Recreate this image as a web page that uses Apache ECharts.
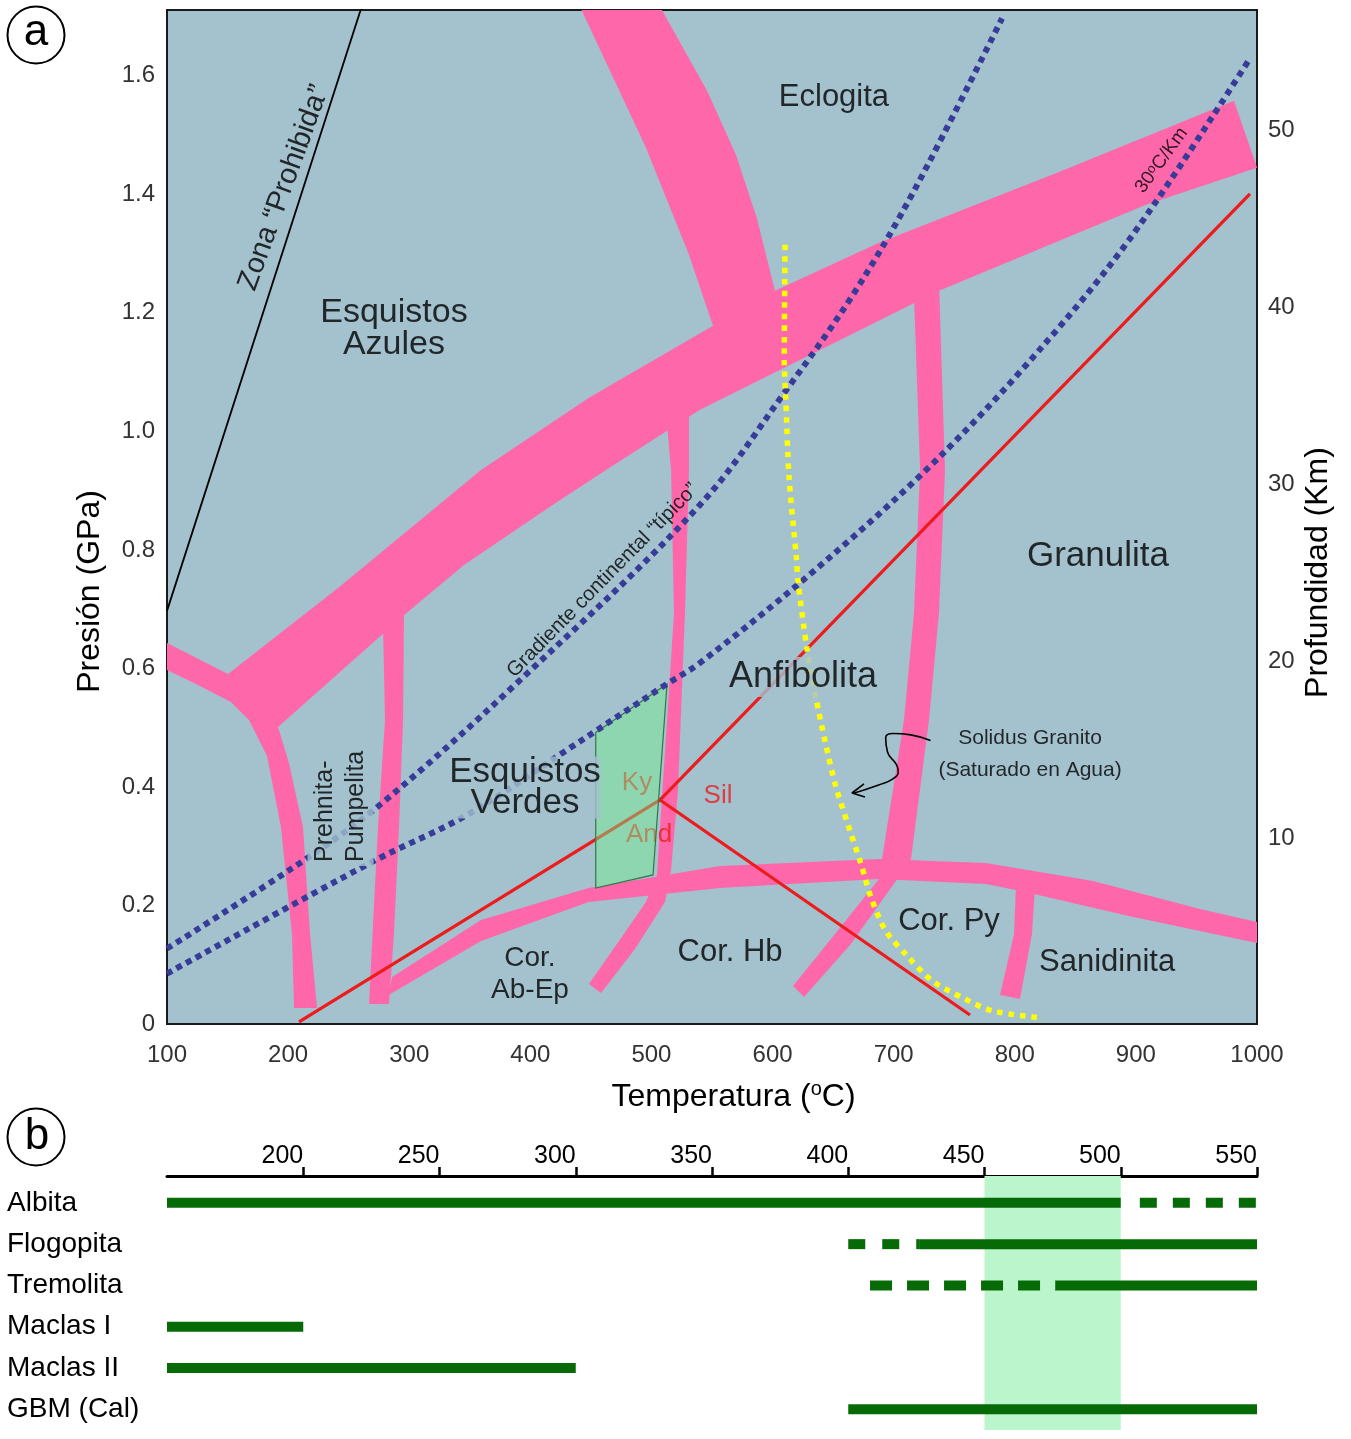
<!DOCTYPE html>
<html>
<head>
<meta charset="utf-8">
<title>Facies metamórficas</title>
<script src="https://cdn.jsdelivr.net/npm/echarts@6.0.0/dist/echarts.min.js"></script>
<style>
  html, body { margin: 0; padding: 0; background: #fff; }
  #chart { width: 1351px; height: 1439px; }
</style>
</head>
<body>
<div id="chart"></div>
<script>
// ---------- panel a: diagrama P-T (T en ºC, P en GPa) ----------
const tempTicks = [100, 200, 300, 400, 500, 600, 700, 800, 900, 1000];
const depthTicks = [10, 20, 30, 40, 50];

// limites de facies (bandas rosas), contorno en [T, P]
const zeoliteBand = [[100, 0.6431], [150.4, 0.5907], [175, 0.575], [191.7, 0.5013], [200.7, 0.4405], [212.3, 0.3325],
  [218.1, 0.1519], [223.9, 0.027], [204.9, 0.027], [203.2, 0.1519], [194.1, 0.3325], [182.6, 0.4523],
  [167.7, 0.5131], [152.8, 0.5435], [123.9, 0.5739], [100, 0.5975]];
const blueschistBand = [[150.4, 0.5907], [241.2, 0.7359], [359.3, 0.935], [448.4, 1.0566], [550.8, 1.1781],
  [602.0, 1.2372], [687.9, 1.3182], [834.9, 1.4363], [981.0, 1.5578], [1000, 1.4448], [908.4, 1.3823],
  [737.4, 1.2372], [540.1, 1.0363], [462.5, 0.935], [418.7, 0.876], [345.2, 0.7747], [294.9, 0.6886], [191.7, 0.5013]];
const eclogiteBand = [[440.2, 1.72], [506.2, 1.72], [545.9, 1.5747], [569.8, 1.4667], [587.2, 1.3587], [602.0, 1.2372],
  [577.3, 1.146], [550.8, 1.1781], [531.0, 1.2979], [495.5, 1.4785]];
const prehniteBand = [[278.4, 0.67], [280.0, 0.5131], [274.2, 0.3325], [269.7, 0.1519], [266.8, 0.0338],
  [283.3, 0.0338], [287.4, 0.1519], [291.6, 0.3325], [294.9, 0.5131], [295.7, 0.70]];
const amphiboliteBand = [[512.9, 1.01], [516.2, 0.935], [518.6, 0.6937], [512.9, 0.5131], [507.1, 0.3325],
  [504.6, 0.2515], [495.5, 0.2059], [474.9, 0.1452], [448.4, 0.0675], [458.4, 0.0523], [486.4, 0.1266],
  [511.2, 0.2059], [516.2, 0.2599], [521.9, 0.3933], [527.7, 0.6937], [531.0, 0.935], [531.0, 1.035]];
const granuliteBand = [[716.8, 1.23], [721.8, 0.935], [716.8, 0.6937], [708.5, 0.5131], [690.4, 0.2785],
  [687.9, 0.2447], [658.2, 0.1688], [616.9, 0.0641], [626.0, 0.0456], [664.0, 0.1333], [701.9, 0.2414],
  [714.3, 0.2785], [729.2, 0.5131], [737.4, 0.6937], [742.4, 0.935], [737.4, 1.255]];
const hornfelsBand = [[285.8, 0.0793], [359.3, 0.1755], [448.1, 0.2295], [556.6, 0.2667], [687.6, 0.2785],
  [776.2, 0.2717], [864.6, 0.2414], [953.0, 0.1941], [1000, 0.1722], [1000, 0.1367], [894.0, 0.1823],
  [805.1, 0.2245], [776.2, 0.2363], [687.6, 0.2447], [556.6, 0.2295], [448.1, 0.2059], [359.3, 0.1401], [283.0, 0.0489]];
const sanidiniteBand = [[801.0, 0.2346], [799.4, 0.1519], [787.8, 0.0489], [804.3, 0.0422], [814.2, 0.1519], [816.7, 0.2295]];

// zona estudiada (poligono verde)
const studyZone = [[454.0, 0.492], [512.9, 0.5739], [501.3, 0.2515], [454.0, 0.2295]];

// aluminosilicatos
const andKy = [[209.0, 0.0034], [507.1, 0.378]];
const kySil = [[507.1, 0.378], [994.2, 1.4009]];
const andSil = [[507.1, 0.378], [763.0, 0.0152]];

// gradientes
const geoTypical = [[100, 0.1273], [212.3, 0.2751], [276.7, 0.3713], [389.0, 0.5755], [540.1, 0.876],
  [610.9, 1.0684], [666.9, 1.2321], [716.8, 1.4059], [789.5, 1.6969]];
const geo30 = [[100, 0.0851], [270.9, 0.2751], [347.7, 0.3527], [430.3, 0.4625], [512.9, 0.5739], [540.1, 0.6093],
  [628.4, 0.7545], [722.6, 0.9266], [805.1, 1.1021], [894.0, 1.3221], [994.2, 1.6294]];
const forbidden = [[100, 0.6971], [260.2, 1.7131]];

// solidus granito saturado en agua
const solidus = [[610.3, 1.3148], [609.7, 1.1173], [610.9, 1.0566], [613.6, 0.9232], [619.7, 0.7855], [621.0, 0.7477],
  [628.4, 0.6336], [635.9, 0.5492], [643.3, 0.4777], [652.1, 0.4017], [663.9, 0.3263], [672.8, 0.2717],
  [681.6, 0.2116], [693.4, 0.1575], [711.0, 0.1153], [731.7, 0.0731], [758.1, 0.0429], [782.0, 0.0219], [823.3, 0.0101]];
const arrowPath = [[730.4, 0.4782], [714.1, 0.4878], [699.4, 0.4901], [693.4, 0.4829], [694.9, 0.4589], [702.3, 0.4378],
  [703.8, 0.4257], [699.4, 0.4137], [687.6, 0.4034], [666.9, 0.3895]];
const arrowHead = [[675.5, 0.405], [665.6, 0.3898], [676.3, 0.3831]];

// ---------- panel b: estabilidad de minerales ----------
const minerals = ['Albita', 'Flogopita', 'Tremolita', 'Maclas I', 'Maclas II', 'GBM (Cal)'];
const solidStart = [150, 426, 476, 150, 150, 400];
const solidEnd = [500, 550, 550, 200, 300, 550];
const dashedStart = [507, 400, 408, null, null, null];
const dashedEnd = [550, 426, 476, null, null, null];
const rangeTicks = [200, 250, 300, 350, 400, 450, 500, 550];
const highlight = [450, 500];

const FONT = 'Liberation Sans, Arial, Helvetica, sans-serif';
const PINK = '#fe68ab';
const PLOT_BG = '#a4c1ce';
const RED = '#ec1c1c';
const NAVY = '#363c98';
const YELLOW = '#ffff00';
const BAR_GREEN = '#066a06';
const dashStyles = [[17, 16], [17, 17], [22, 15]];

const chart = echarts.init(document.getElementById('chart'));

function band(outline) {
  return {
    type: 'custom', xAxisIndex: 0, yAxisIndex: 0, clip: true, silent: true, z: 1,
    data: [outline[0]],
    renderItem: (params, api) => ({
      type: 'polygon',
      shape: { points: outline.map(p => api.coord(p)) },
      style: { fill: PINK }
    })
  };
}

function curve(data, color, width, dash, z, smooth) {
  return {
    type: 'line', xAxisIndex: 0, yAxisIndex: 0, data: data, symbol: 'none', showSymbol: false,
    smooth: smooth || false, silent: true, z: z, clip: true,
    lineStyle: { color: color, width: width, type: dash || 'solid', cap: 'butt' }
  };
}

function tag(pt, text, size, extra) {
  return {
    value: pt,
    label: Object.assign({
      show: true, formatter: text, fontSize: size, fontFamily: FONT, color: '#000',
      textBorderWidth: 0, position: 'inside', align: 'center', verticalAlign: 'middle'
    }, extra || {})
  };
}

const supRich = { sup: { fontSize: 13, verticalAlign: 'top', lineHeight: 12, fontFamily: FONT, color: '#000' } };

const faciesLabels = [
  tag([287.4, 1.173], 'Esquistos\nAzules', 34, { lineHeight: 32 }),
  tag([650.7, 1.5629], 'Eclogita', 31),
  tag([868.7, 0.7899], 'Granulita', 35),
  tag([625.1, 0.5857], 'Anfibolita', 36, { backgroundColor: PLOT_BG, padding: [2, 2] }),
  tag([395.6, 0.3992], 'Esquistos\nVerdes', 35, { lineHeight: 31, backgroundColor: PLOT_BG, padding: [0, 0] }),
  tag([243.3, 0.2667], 'Prehnita-\nPumpelita', 25, { lineHeight: 31, rotate: 90, align: 'left', backgroundColor: PLOT_BG, padding: [2, 4] }),
  tag([399.7, 0.0844], 'Cor.\nAb-Ep', 28, { lineHeight: 32 }),
  tag([564.9, 0.1215], 'Cor. Hb', 31),
  tag([745.7, 0.1722], 'Cor. Py', 31),
  tag([876.2, 0.1046], 'Sanidinita', 31),
  tag([812.6, 0.4557], 'Solidus Granito\n(Saturado en Agua)', 21, { lineHeight: 32 }),
  tag([459.8, 0.7485], 'Gradiente continental \u201ct\u00edpico\u201d', 20.5, { rotate: 45.5 }),
  tag([921.2, 1.4574], '30{sup|o}C/Km', 19, { rotate: 54, rich: supRich }),
  tag([196.6, 1.411], 'Zona \u201cProhibida\u201d', 29, { rotate: 70 })
];
const mineralLabels = [
  tag([488.1, 0.4068], 'Ky', 26, { color: RED }),
  tag([498.0, 0.319], 'And', 26, { color: RED }),
  tag([555.0, 0.3848], 'Sil', 26, { color: RED })
];

const series = [
  band(zeoliteBand), band(blueschistBand), band(eclogiteBand), band(prehniteBand),
  band(amphiboliteBand), band(granuliteBand), band(hornfelsBand), band(sanidiniteBand),
  curve(andKy, RED, 3.2, 'solid', 2),
  curve(kySil, RED, 3.2, 'solid', 2),
  curve(andSil, RED, 3.2, 'solid', 2),
  { type: 'scatter', xAxisIndex: 0, yAxisIndex: 0, symbolSize: 0, silent: true, z: 3, data: mineralLabels },
  {
    type: 'custom', xAxisIndex: 0, yAxisIndex: 0, clip: true, silent: true, z: 4,
    data: [studyZone[0]],
    renderItem: (params, api) => ({
      type: 'polygon',
      shape: { points: studyZone.map(p => api.coord(p)) },
      style: { fill: 'rgba(115,240,139,0.45)', stroke: '#2f7a46', lineWidth: 1.2 }
    })
  },
  curve(geoTypical, NAVY, 6, [6, 5], 5, 0.35),
  curve(geo30, NAVY, 6, [6, 5], 5, 0.35),
  curve(solidus, YELLOW, 5.5, [5.5, 6], 5, 0.3),
  curve(forbidden, '#000', 1.8, 'solid', 5),
  curve(arrowPath, '#000', 1.6, 'solid', 5, 0.5),
  curve(arrowHead, '#000', 1.6, 'solid', 5),
  { type: 'scatter', xAxisIndex: 0, yAxisIndex: 0, symbolSize: 0, silent: true, z: 6, data: faciesLabels },
  // panel b: franja verde
  {
    type: 'line', xAxisIndex: 1, yAxisIndex: 2, data: [], silent: true, z: 1,
    markArea: { silent: true, itemStyle: { color: '#bbf5cb', opacity: 1 }, data: [[{ xAxis: highlight[0] }, { xAxis: highlight[1] }]] }
  }
];

minerals.forEach((m, i) => {
  series.push({
    type: 'line', name: m, xAxisIndex: 1, yAxisIndex: 2, symbol: 'none', silent: true, z: 3,
    data: [[solidStart[i], i], [solidEnd[i], i]],
    lineStyle: { color: BAR_GREEN, width: 10, cap: 'butt' }
  });
  if (dashedStart[i] != null) {
    series.push({
      type: 'line', name: m + ' (?)', xAxisIndex: 1, yAxisIndex: 2, symbol: 'none', silent: true, z: 3,
      data: [[dashedStart[i], i], [dashedEnd[i], i]],
      lineStyle: { color: BAR_GREEN, width: 10, cap: 'butt', type: dashStyles[i] }
    });
  }
});

const tickLabel = { fontSize: 24, fontFamily: FONT, color: '#333' };

const option = {
  animation: false,
  backgroundColor: '#fff',
  grid: [
    { left: 167, top: 10, width: 1090, height: 1014, show: true, backgroundColor: PLOT_BG,
      borderColor: '#1a1a1a', borderWidth: 2, outerBoundsMode: 'none' },
    { left: 167, top: 1176, width: 1090, height: 254, show: false, outerBoundsMode: 'none' }
  ],
  xAxis: [
    {
      gridIndex: 0, type: 'value', min: tempTicks[0], max: tempTicks[tempTicks.length - 1], interval: 100,
      name: 'Temperatura ({sup|o}C)', nameLocation: 'middle', nameGap: 55, nameMoveOverlap: false,
      nameTextStyle: { fontSize: 32, fontFamily: FONT, color: '#000', lineHeight: 36, padding: [0, 0, 0, 43],
        rich: { sup: { fontSize: 20, verticalAlign: 'top', lineHeight: 18, fontFamily: FONT, color: '#000' } } },
      axisLine: { show: false }, axisTick: { show: false }, splitLine: { show: false },
      axisLabel: Object.assign({ margin: 19, formatter: v => String(v) }, tickLabel)
    },
    {
      gridIndex: 1, type: 'value', position: 'top', min: 150, max: 550, interval: 50,
      axisLine: { show: true, onZero: false, lineStyle: { color: '#000', width: 3 } },
      axisTick: { show: true, inside: false, length: 9, customValues: rangeTicks, lineStyle: { color: '#000', width: 2.5 } },
      axisLabel: { customValues: rangeTicks, align: 'right', margin: 7, fontSize: 25, fontFamily: FONT, color: '#000',
        formatter: v => String(v) },
      splitLine: { show: false }
    }
  ],
  yAxis: [
    {
      gridIndex: 0, type: 'value', position: 'left', min: 0, max: 1.711, interval: 0.2,
      name: 'Presión (GPa)', nameLocation: 'middle', nameGap: 61, nameRotate: 90, nameMoveOverlap: false,
      nameTextStyle: { fontSize: 32, fontFamily: FONT, color: '#000', padding: [0, 149, 0, 0] },
      axisLine: { show: false }, axisTick: { show: false }, splitLine: { show: false },
      axisLabel: Object.assign({ margin: 12, showMaxLabel: false, formatter: v => (v === 0 ? '0' : v.toFixed(1)) }, tickLabel)
    },
    {
      gridIndex: 0, type: 'value', position: 'right', min: -0.51, max: 56.78,
      name: 'Profundidad (Km)', nameLocation: 'middle', nameGap: 45, nameRotate: 90, nameMoveOverlap: false,
      nameTextStyle: { fontSize: 32, fontFamily: FONT, color: '#000', padding: [0, 111, 0, 0] },
      axisLine: { show: false }, axisTick: { show: false }, splitLine: { show: false },
      axisLabel: Object.assign({ margin: 11, customValues: depthTicks }, tickLabel)
    },
    {
      gridIndex: 1, type: 'value', inverse: true, min: -0.65, max: 5.5,
      axisLine: { show: false, onZero: false }, axisTick: { show: false }, splitLine: { show: false },
      axisLabel: {
        customValues: [0, 1, 2, 3, 4, 5], align: 'left', margin: 160, fontSize: 28, fontFamily: FONT, color: '#000',
        formatter: v => (Number.isInteger(v) && minerals[v] !== undefined ? minerals[v] : '')
      }
    }
  ],
  graphic: [
    { type: 'circle', shape: { cx: 36, cy: 35, r: 28.5 }, style: { fill: '#fff', stroke: '#000', lineWidth: 2 } },
    { type: 'text', x: 36, y: 33, style: { text: 'a', fontSize: 44, fontFamily: FONT, fill: '#000', align: 'center', verticalAlign: 'middle' } },
    { type: 'circle', shape: { cx: 36, cy: 1137, r: 28.5 }, style: { fill: '#fff', stroke: '#000', lineWidth: 2 } },
    { type: 'text', x: 37, y: 1137, style: { text: 'b', fontSize: 44, fontFamily: FONT, fill: '#000', align: 'center', verticalAlign: 'middle' } }
  ],
  series: series
};

chart.setOption(option);
</script>
</body>
</html>
